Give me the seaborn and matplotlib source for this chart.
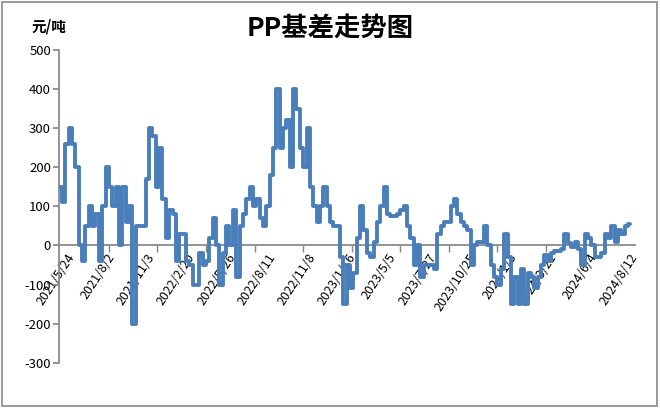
import numpy as np
import pandas as pd
import matplotlib
matplotlib.use("Agg")
import matplotlib.pyplot as plt
import matplotlib.transforms as mtransforms
import seaborn as sns
from matplotlib.patches import Rectangle

# PP basis (元/吨), one value per ~1/12 of a label interval
basis = [
    150, 110, 260, 300, 260, 200, 0, -40, 50, 100,
    50, 80, -40, 100, 200, 150, 100, 150, 0, 150,
    60, 100, -200, 50, 50, 50, 170, 300, 280, 150,
    250, 120, 20, 90, 80, -40, 30, 30, -40, -50,
    -100, -100, -20, -50, -40, 20, 70, 0, -100, -20,
    50, 0, 90, -80, 50, 80, 120, 150, 100, 120,
    70, 50, 100, 180, 250, 400, 250, 300, 320, 200,
    400, 350, 250, 200, 300, 150, 100, 60, 100, 150,
    100, 60, 50, 50, -30, -150, -50, -110, -70, 20,
    100, 40, -20, -30, 10, 60, 100, 150, 80, 75,
    75, 80, 90, 100, 50, 20, -50, 0, -80, -50,
    -50, -50, -60, 30, 50, 60, 60, 100, 120, 80,
    60, 50, 40, -50, 0, 10, 10, 50, 0, -50,
    -80, -100, -60, 30, -30, -150, -80, -150, -60, -150,
    -70, -80, -110, -80, -50, -25, -40, -20, -15, -15,
    -10, 30, 5, -5, 10, -10, -50, 30, 20, 0,
    -30, -30, -20, 30, 20, 50, 10, 40, 30, 50,
    55,
]

date_labels = [
    "2021/5/24", "2021/8/2", "2021/11/3", "2022/2/20", "2022/5/26",
    "2022/8/11", "2022/11/8", "2023/1/16", "2023/5/5", "2023/7/27",
    "2023/10/25", "2024/1/3", "2024/3/21", "2024/6/4", "2024/8/12",
]
label_step = 12

yticks = list(range(-300, 501, 100))

sns.set_theme(style="white")
plt.rcParams['font.family'] = ['Noto Sans CJK SC', 'DejaVu Sans']
plt.rcParams['axes.unicode_minus'] = False
plt.rcParams['text.color'] = 'black'

df = pd.DataFrame({'idx': np.arange(len(basis)), 'basis': basis})

fig = plt.figure(figsize=(6.6, 4.08), dpi=100)
ax = fig.add_axes([59.3 / 660, 45.3 / 408, 0.872, 0.7665])

sns.lineplot(data=df, x='idx', y='basis', ax=ax, color='#4A7EBB',
             linewidth=2.8, drawstyle='steps-mid', estimator=None, zorder=4)

grey = '#868686'
ax.set_xlim(-0.3, 171.5)
ax.set_ylim(-300, 500)
ax.set_xlabel('')
ax.set_ylabel('')

for side in ['top', 'right']:
    ax.spines[side].set_visible(False)
ax.spines['left'].set_color(grey)
ax.spines['bottom'].set_color(grey)
ax.spines['bottom'].set_position(('data', 0))

ax.set_yticks(yticks)
ax.set_yticklabels([str(v) for v in yticks])
ax.tick_params(axis='y', left=True, length=4, color=grey, direction='out',
               labelsize=9.5, pad=2, labelcolor='black')

ax.set_xticks(np.arange(len(date_labels)) * label_step)
ax.set_xticklabels(date_labels, rotation=57, ha='right', va='top',
                   rotation_mode='anchor')
ax.set_xticks(np.arange(0, len(basis), 14.5), minor=True)
ax.tick_params(axis='x', which='major', bottom=True, length=0, pad=4,
               labelsize=9, labelcolor='black')
ax.tick_params(axis='x', which='minor', bottom=True, length=5, color=grey,
               direction='out')

# nudge the rotated date labels to the right, as in the original
shift = mtransforms.ScaledTranslation(6 / 100, 0, fig.dpi_scale_trans)
for lbl in ax.get_xticklabels():
    lbl.set_transform(lbl.get_transform() + shift)

fig.text(0.5, 1 - 28 / 408, 'PP基差走势图', ha='center', va='center',
         fontsize=19, fontweight='bold', color='black')
fig.text(32 / 660, 1 - 26 / 408, '元/吨', ha='left', va='center',
         fontsize=10.5, fontweight='bold', color='black')

fig.patches.append(Rectangle((0.003, 0.005), 0.993, 0.99, transform=fig.transFigure,
                             fill=False, edgecolor='#888888', linewidth=1.2))

fig.savefig('out.png', dpi=100)
